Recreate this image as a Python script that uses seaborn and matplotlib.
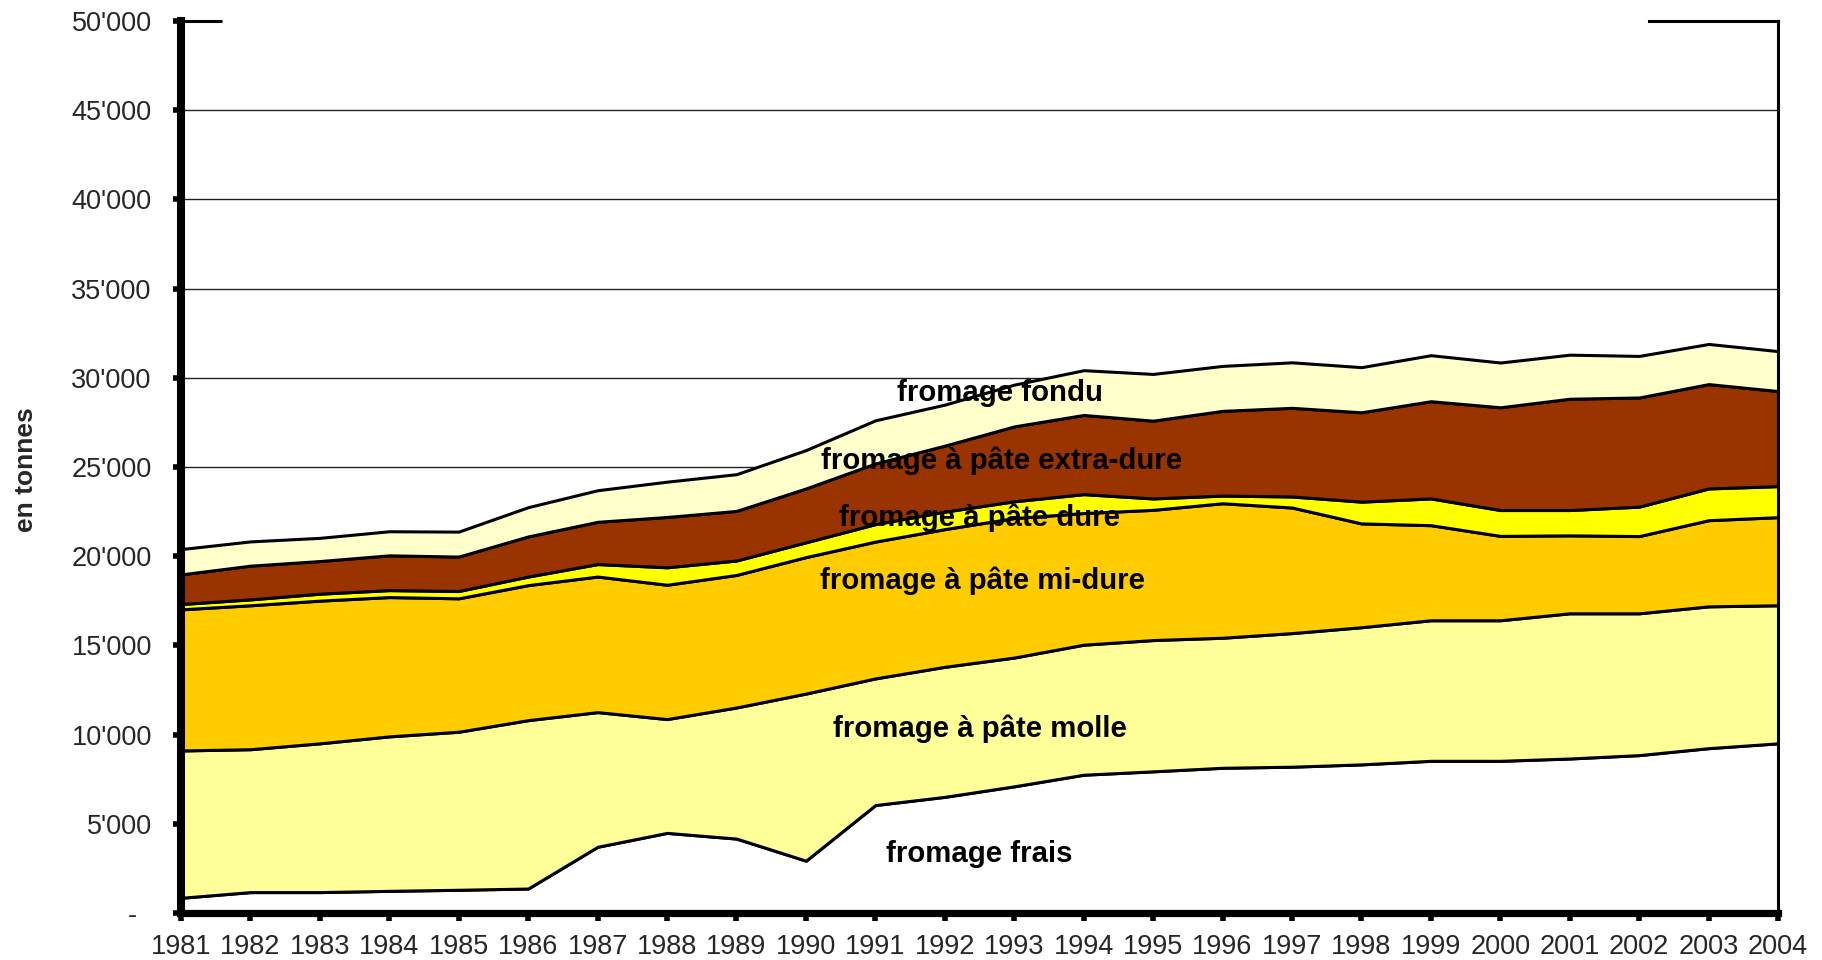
import matplotlib
matplotlib.use("Agg")
import matplotlib.pyplot as plt
import seaborn as sns
from matplotlib.ticker import FuncFormatter, MultipleLocator

# Consommation de fromage par sorte (en tonnes)
years = list(range(1981, 2005))

frais = [850, 1170, 1170, 1240, 1300, 1370, 3710, 4490, 4170, 2930, 6050, 6510,
         7100, 7750, 7940, 8140, 8200, 8330, 8530, 8530, 8660, 8850, 9240, 9510]
molle = [8260, 8010, 8340, 8660, 8860, 9440, 7550, 6380, 7350, 9370, 7100, 7290,
         7220, 7290, 7360, 7290, 7490, 7690, 7880, 7880, 8140, 7950, 7950, 7740]
mi_dure = [7910, 8070, 8000, 7810, 7480, 7570, 7600, 7530, 7430, 7650, 7670, 7720,
           7820, 7380, 7300, 7540, 7040, 5820, 5330, 4730, 4370, 4330, 4830, 4940]
dure = [300, 330, 390, 390, 410, 480, 700, 980, 810, 830, 980, 980,
        940, 1060, 640, 430, 620, 1220, 1500, 1450, 1420, 1650, 1780, 1740]
extra_dure = [1660, 1890, 1830, 1950, 1930, 2250, 2370, 2820, 2780, 3020, 3400, 3700,
              4200, 4440, 4360, 4750, 4970, 5010, 5450, 5760, 6240, 6120, 5850, 5330]
fondu = [1420, 1360, 1300, 1350, 1400, 1640, 1770, 1980, 2060, 2150, 2420, 2300,
         2340, 2510, 2620, 2520, 2550, 2530, 2580, 2510, 2470, 2330, 2250, 2240]

series = [frais, molle, mi_dure, dure, extra_dure, fondu]
names = ["fromage frais", "fromage à pâte molle", "fromage à pâte mi-dure",
         "fromage à pâte dure", "fromage à pâte extra-dure", "fromage fondu"]
colors = ["#FFFFFF", "#FFFF99", "#FFCC00", "#FFFF00", "#993300", "#FFFFCC"]

sns.set_style("white")
plt.rcParams["font.family"] = ["Liberation Sans", "DejaVu Sans"]

fig = plt.figure(figsize=(18.22, 9.6), dpi=100)
ax = fig.add_axes([0.0993, 0.049, 0.8766, 0.929])

# gridlines behind the areas
for v in range(5000, 50000, 5000):
    ax.axhline(v, color="#222222", lw=1.0, zorder=0.5)

ax.stackplot(years, *series, colors=colors, edgecolor="black", linewidth=2.2, zorder=1)

ax.set_xlim(1981, 2004)
ax.set_ylim(0, 50000)
ax.xaxis.set_major_locator(MultipleLocator(1))
ax.yaxis.set_major_locator(MultipleLocator(5000))
ax.yaxis.set_major_formatter(
    FuncFormatter(lambda v, p: "-  " if v == 0 else f"{int(v):,}".replace(",", "'")))

ax.spines["left"].set_linewidth(5.8)
ax.spines["bottom"].set_linewidth(5.2)
ax.spines["right"].set_linewidth(2.2)
ax.spines["top"].set_visible(False)
for s in ["left", "bottom", "right"]:
    ax.spines[s].set_color("black")
    ax.spines[s].set_zorder(5)

# top border only at both ends
ax.plot([0, 0.026], [1, 1], transform=ax.transAxes, color="black", lw=2.2,
        clip_on=False, solid_capstyle="butt", zorder=5)
ax.plot([0.919, 1.0], [1, 1], transform=ax.transAxes, color="black", lw=2.2,
        clip_on=False, solid_capstyle="projecting", zorder=5)

ax.tick_params(axis="y", direction="out", length=6, width=4, pad=15,
               labelsize=19.5, color="black", left=True)
ax.tick_params(axis="x", direction="out", length=6, width=4, pad=9,
               labelsize=19.5, color="black", bottom=True)

fig.text(26 / 1822, 1 - 470 / 960, "en tonnes", rotation=90, ha="center", va="center",
         fontsize=19, fontweight="bold")

# labels of the layers
label_x = [1992.5, 1992.5, 1992.55, 1992.5, 1992.82, 1992.79]
label_y = [3320, 10350, 18620, 22140, 25330, 29170]
for name, lx, ly in zip(names, label_x, label_y):
    ax.text(lx, ly, name, ha="center", va="center", fontsize=21.2,
            fontweight="bold", color="black", zorder=6)

fig.savefig("out.png", dpi=100)
